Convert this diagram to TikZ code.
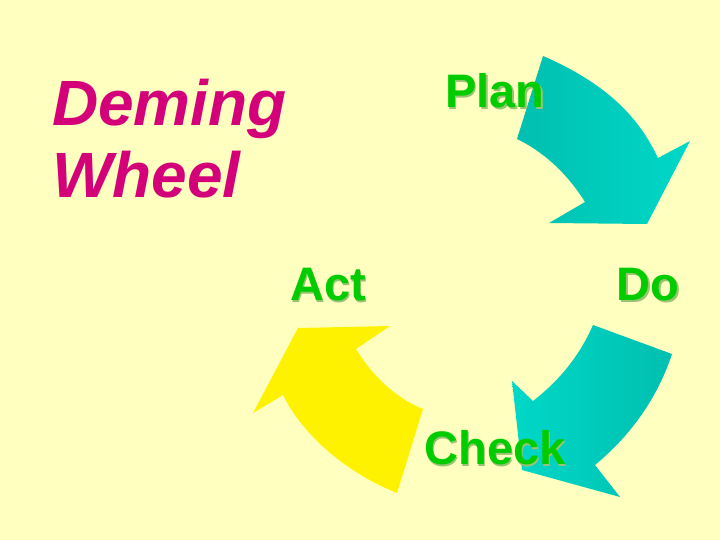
\documentclass[tikz,border=0pt]{standalone}
\usepackage{fontspec}
\setmainfont{Liberation Sans}
\definecolor{bg}{HTML}{FFFFC0}
\definecolor{teal1}{HTML}{00BFB0}
\definecolor{teal2}{HTML}{00D8C8}
\definecolor{grn}{HTML}{00CC00}
\definecolor{mag}{HTML}{D4007A}
\begin{document}
\begin{tikzpicture}[x=1pt,y=-1pt,
 lbl/.style={font=\fontsize{47}{47}\selectfont\bfseries,text=grn,inner sep=0pt}]
\fill[bg] (0,0) rectangle (720,540);
\useasboundingbox (0,0) rectangle (720,540);
% top arrow
\shade[left color=teal1,right color=teal2] (543,56) .. controls (610,85) and (640,120) .. (658,158) -- (690,141) -- (647,224) -- (549,223) -- (585,202) .. controls (565,170) and (540,150) .. (517,139) -- cycle;
% right arrow
\shade[left color=teal2,right color=teal1] (593,325) -- (672,354) .. controls (655,405) and (625,440) .. (595,465) -- (620,497) -- (522,470) -- (512,381) -- (533,401) .. controls (560,380) and (580,355) .. (593,325) -- cycle;
% yellow arrow
\fill[yellow] (423,409) -- (397,493) .. controls (340,470) and (300,430) .. (283,395) -- (253,413) -- (298,328) -- (390,326) -- (356,349) .. controls (375,380) and (400,400) .. (423,409) -- cycle;
% labels
\foreach \n/\t/\x/\y in {plan/Plan/495/91,act/Act/328/285,do/Do/648/285,check/Check/495/448}{
  \node[lbl,text=grn!50!black!40!bg] at (\x+1.5,\y+1.5) {\t};
  \node[lbl] (\n) at (\x,\y) {\t};
}
\node[font=\fontsize{64}{73}\selectfont\bfseries\itshape,text=mag,anchor=base west,align=left,inner sep=0pt] (title) at (52,198) {Deming\\Wheel};
\end{tikzpicture}
\end{document}
